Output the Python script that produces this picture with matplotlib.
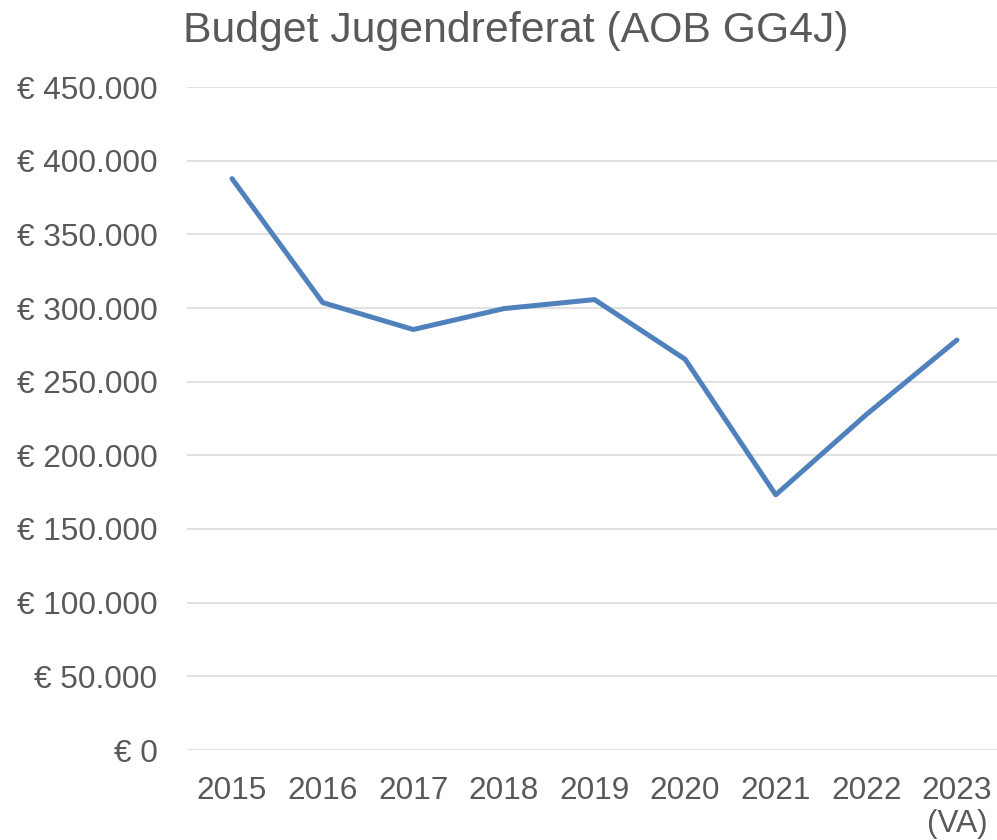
import matplotlib.pyplot as plt

# --- data ---
years = ["2015", "2016", "2017", "2018", "2019", "2020", "2021", "2022", "2023\n(VA)"]
budget = [387800, 303700, 285400, 299600, 305700, 265200, 173200, 227700, 278300]

y_ticks = [0, 50000, 100000, 150000, 200000, 250000, 300000, 350000, 400000, 450000]
y_labels = ["€ 0", "€ 50.000", "€ 100.000", "€ 150.000", "€ 200.000",
            "€ 250.000", "€ 300.000", "€ 350.000", "€ 400.000", "€ 450.000"]

plt.rcParams['font.family'] = ['Liberation Sans', 'DejaVu Sans']
text_grey = '#595959'

W, H = 997, 840
fig = plt.figure(figsize=(W / 100, H / 100), dpi=100)

# plot area in pixels: x 186.7 .. 1002.3, y 87 .. 750
left, right, top, bottom = 186.7, 1002.3, 87, 750
ax = fig.add_axes([left / W, (H - bottom) / H, (right - left) / W, (bottom - top) / H])

x = list(range(len(years)))
ax.plot(x, budget, color='#4f81bd', linewidth=3.6, solid_capstyle='round', solid_joinstyle='round', zorder=3)

ax.set_xlim(-0.5, len(years) - 0.5)
ax.set_ylim(0, 450000)
ax.set_xticks(x)
ax.set_xticklabels(years)
ax.set_yticks(y_ticks)
ax.set_yticklabels(y_labels)

ax.grid(axis='y', color='#d9d9d9', linewidth=1.1, zorder=0)
ax.set_axisbelow(True)
for s in ax.spines.values():
    s.set_visible(False)
ax.tick_params(axis='both', length=0, labelsize=22.7, labelcolor=text_grey)
ax.tick_params(axis='y', pad=21)
ax.tick_params(axis='x', pad=19)
for lbl in ax.get_xticklabels():
    lbl.set_linespacing(1.1)

fig.text(516 / W, (H - 41.7) / H, "Budget Jugendreferat (AOB GG4J)",
         ha='center', va='baseline', fontsize=30.8, color=text_grey)

fig.savefig('out.png', dpi=100)
